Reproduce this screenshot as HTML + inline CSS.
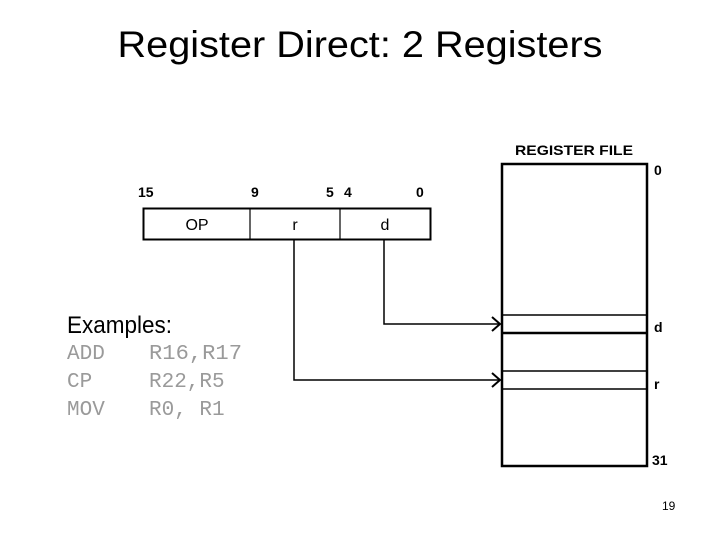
<!DOCTYPE html>
<html><head><meta charset="utf-8"><style>
html,body{margin:0;padding:0;background:#fff;}
svg{display:block;}
</style></head><body>
<svg width="720" height="540" xmlns="http://www.w3.org/2000/svg">
<text x="360" y="57" text-anchor="middle" font-family="Liberation Sans, sans-serif" font-size="37" textLength="485" lengthAdjust="spacingAndGlyphs">Register Direct: 2 Registers</text>

<g font-family="Liberation Sans, sans-serif" font-weight="bold" font-size="14">
<text x="138" y="197">15</text>
<text x="251" y="197">9</text>
<text x="326" y="197">5</text>
<text x="344" y="197">4</text>
<text x="416" y="197">0</text>
<text x="515" y="155" font-size="14" textLength="118" lengthAdjust="spacingAndGlyphs">REGISTER FILE</text>
<text x="654" y="175">0</text>
<text x="654" y="332">d</text>
<text x="654" y="389">r</text>
<text x="652" y="465">31</text>
</g>

<rect x="143.5" y="208.5" width="287" height="31" fill="none" stroke="#000" stroke-width="2"/>
<line x1="250" y1="208" x2="250" y2="240" stroke="#000" stroke-width="1.2"/>
<line x1="340" y1="208" x2="340" y2="240" stroke="#000" stroke-width="1.2"/>
<g font-family="Liberation Sans, sans-serif" font-size="16" text-anchor="middle">
<text x="197" y="230">OP</text>
<text x="295" y="230">r</text>
<text x="385" y="230">d</text>
</g>

<rect x="502" y="164" width="145" height="302" fill="none" stroke="#000" stroke-width="2.5"/>
<line x1="502" y1="315" x2="647" y2="315" stroke="#000" stroke-width="1.5"/>
<line x1="502" y1="333" x2="647" y2="333" stroke="#000" stroke-width="2.5"/>
<line x1="502" y1="371" x2="647" y2="371" stroke="#000" stroke-width="1.5"/>
<line x1="502" y1="389" x2="647" y2="389" stroke="#000" stroke-width="1.5"/>

<polyline points="384,240 384,324 500,324" fill="none" stroke="#000" stroke-width="1.5"/>
<polyline points="492,317 500,324 492,331" fill="none" stroke="#000" stroke-width="2"/>
<polyline points="294,240 294,380 500,380" fill="none" stroke="#000" stroke-width="1.5"/>
<polyline points="492,373 500,380 492,387" fill="none" stroke="#000" stroke-width="2"/>

<text x="67" y="333" font-family="Liberation Sans, sans-serif" font-size="24" textLength="105" lengthAdjust="spacingAndGlyphs">Examples:</text>
<g font-family="Liberation Mono, monospace" font-size="21" fill="#9a9a9a">
<text x="67" y="359">ADD</text><text x="149" y="359" textLength="93" lengthAdjust="spacingAndGlyphs">R16,R17</text>
<text x="67" y="387">CP</text><text x="149" y="387">R22,R5</text>
<text x="67" y="415">MOV</text><text x="149" y="415">R0, R1</text>
</g>
<text x="662" y="510" font-family="Liberation Sans, sans-serif" font-size="12">19</text>
</svg>
</body></html>
